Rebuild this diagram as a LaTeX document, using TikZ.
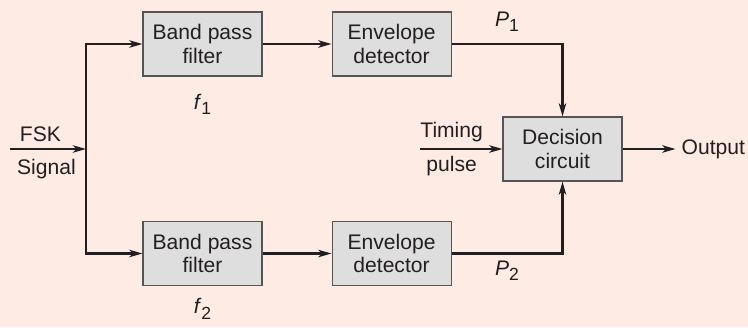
\documentclass[tikz,border=0pt]{standalone}
\usepackage{fontspec}
\setmainfont{Liberation Sans}
\usepackage{tikz}
\usetikzlibrary{shapes,arrows.meta,positioning}
\definecolor{bgpeach}{RGB}{253,235,228}
\definecolor{boxfill}{RGB}{222,222,222}
\definecolor{boxedge}{RGB}{85,85,85}
\definecolor{ink}{RGB}{35,31,32}
\newcommand{\lowidx}[1]{\raisebox{-0.5ex}{\fontsize{10}{10}\selectfont #1}}
\tikzset{
    block/.style = {rectangle, minimum width=2.38cm, minimum height=1.28cm, text centered, align=center, draw=boxedge, fill=boxfill, line width=0.6pt},
    wire/.style = {draw=ink, line width=1.3pt},
    tag/.style = {text=ink}
}

\begin{document}
\begin{tikzpicture}[
    node distance=1.38cm,
    >={Stealth[length=7.5pt,width=4.2pt,inset=2pt]},
    font=\fontsize{12}{13.5}\selectfont,
    text=ink
]
    \fill [bgpeach] (0,0) rectangle (14.96,6.54);
    \useasboundingbox (0,0) rectangle (14.96,6.54);

    \node [block] (bpf1) at (4.05,5.66) {Band pass\\filter};
    \node [block, right=of bpf1] (env1) {Envelope\\detector};
    \node [block] (bpf2) at (4.05,1.47) {Band pass\\filter};
    \node [block, right=of bpf2] (env2) {Envelope\\detector};
    \node [block] (decision) at (11.25,3.56) {Decision\\circuit};
    \node [right=1.06cm of decision] (output) {Output};

    \node [tag, below=0.22cm of bpf1] (f1) {\textit{f}\lowidx{1}};
    \node [tag, below=0.12cm of bpf2] (f2) {\textit{f}\lowidx{2}};

    \coordinate (input) at (0.2,3.56);
    \coordinate (split) at (1.72,3.56);
    \coordinate [left=1.64cm of decision] (timing);

    % input splits into the two filter branches
    \draw [wire, ->] (input) -- node[above, pos=0.4] {FSK} node[below=2pt, pos=0.48] {Signal} (split);
    \draw [wire, ->] (split) |- (bpf1);
    \draw [wire, ->] (split) |- (bpf2);
    \draw [wire, ->] (bpf1) -- (env1);
    \draw [wire, ->] (bpf2) -- (env2);

    \draw [wire, ->] (env1) -| node[above=3pt, pos=0.25] {\textit{P}\lowidx{1}} (decision);
    \draw [wire, ->] (env2) -| node[below, pos=0.25] {\textit{P}\lowidx{2}} (decision);
    \draw [wire, ->] (timing) -- node[above, pos=0.38] {Timing} node[below, pos=0.38] {pulse} (decision);
    \draw [wire, ->] (decision) -- (output);
\end{tikzpicture}
\end{document}
